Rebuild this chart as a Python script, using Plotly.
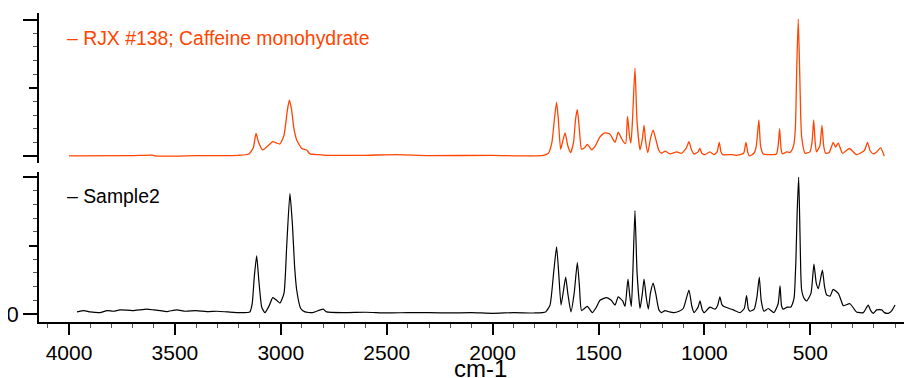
import plotly.graph_objects as go

# ---- Data (wavenumber cm-1, intensity in tick units) ----
ref_wn = [4000, 3700, 3600, 3595, 3400, 3200, 3150, 3130, 3117, 3105, 3086, 3060, 3038, 3020, 3004,
          2985, 2970, 2960, 2950, 2938, 2925, 2901, 2878, 2862, 2820, 2780, 2600, 2450, 2300, 2000,
          1850, 1760, 1737, 1720, 1708, 1698, 1690, 1679, 1670, 1658, 1645, 1632, 1618, 1608, 1600,
          1592, 1580, 1566, 1553, 1540, 1533, 1515, 1493, 1470, 1446, 1422, 1407, 1395, 1383, 1372,
          1363, 1354, 1347, 1340, 1328, 1318, 1304, 1293, 1285, 1277, 1267, 1255, 1242, 1230, 1215,
          1202, 1186, 1163, 1131, 1108, 1085, 1073, 1062, 1049, 1030, 1021, 1012, 997, 974, 955,
          940, 930, 922, 914, 870, 850, 815, 804, 795, 788, 766, 755, 743, 735, 722,
          700, 660, 652, 645, 638, 632, 612, 596, 585, 577, 570, 564, 557, 550, 545,
          541, 525, 502, 492, 484, 477, 471, 455, 445, 437, 428, 411, 392, 381, 368,
          348, 316, 282, 245, 230, 218, 203, 187, 168, 151]
ref_int = [0.0, 0.005, 0.01, 0.0, 0.005, 0.01, 0.03, 0.12, 0.33, 0.2, 0.088, 0.15, 0.21, 0.19, 0.176,
           0.3, 0.65, 0.82, 0.7, 0.4, 0.235, 0.11, 0.088, 0.03, 0.02, 0.01, 0.01, 0.02, 0.005, 0.01,
           0.0, 0.01, 0.04, 0.2, 0.55, 0.79, 0.55, 0.1, 0.2, 0.34, 0.15, 0.05, 0.2, 0.55, 0.68,
           0.45, 0.1, 0.12, 0.17, 0.12, 0.09, 0.15, 0.28, 0.34, 0.32, 0.2, 0.35, 0.28, 0.21, 0.18,
           0.58, 0.3, 0.19, 0.5, 1.29, 0.5, 0.09, 0.25, 0.45, 0.2, 0.05, 0.25, 0.38, 0.25, 0.08,
           0.04, 0.07, 0.03, 0.06, 0.04, 0.12, 0.21, 0.1, 0.03, 0.06, 0.11, 0.04, 0.02, 0.06, 0.02,
           0.06, 0.2, 0.06, 0.02, 0.02, 0.01, 0.04, 0.2, 0.05, 0.0, 0.04, 0.15, 0.53, 0.15, 0.03,
           0.02, 0.03, 0.15, 0.4, 0.1, 0.03, 0.06, 0.05, 0.1, 0.18, 0.45, 1.3, 2.01, 1.2, 0.55,
           0.28, 0.04, 0.06, 0.2, 0.53, 0.2, 0.06, 0.15, 0.45, 0.15, 0.04, 0.05, 0.2, 0.13, 0.19,
           0.04, 0.11, 0.02, 0.08, 0.2, 0.08, 0.03, 0.06, 0.12, 0.0]

smp_wn = [3962, 3930, 3900, 3854, 3820, 3790, 3759, 3700, 3633, 3600, 3570, 3539, 3492, 3450, 3400,
          3350, 3300, 3250, 3193, 3146, 3135, 3125, 3114, 3104, 3090, 3075, 3055, 3038, 3020, 3004,
          2985, 2972, 2957, 2945, 2935, 2925, 2906, 2886, 2850, 2800, 2784, 2700, 2600, 2500, 2400,
          2300, 2200, 2100, 2000, 1900, 1800, 1750, 1729, 1712, 1698, 1688, 1677, 1665, 1655, 1645,
          1630, 1615, 1600, 1590, 1580, 1553, 1529, 1510, 1493, 1462, 1440, 1422, 1407, 1386, 1375,
          1361, 1352, 1345, 1338, 1328, 1318, 1304, 1293, 1285, 1275, 1265, 1255, 1242, 1230, 1215,
          1202, 1186, 1165, 1145, 1120, 1100, 1073, 1060, 1049, 1030, 1021, 1010, 1001, 974, 950,
          938, 927, 918, 908, 864, 832, 812, 801, 793, 785, 765, 752, 741, 732, 719,
          699, 672, 652, 643, 636, 628, 609, 593, 584, 576, 568, 562, 555, 549, 545,
          541, 528, 517, 497, 483, 472, 462, 443, 433, 423, 407, 392, 368, 355, 344,
          313, 282, 250, 227, 215, 203, 187, 163, 150, 132, 115, 100]
smp_int = [0.03, 0.05, 0.03, 0.02, 0.05, 0.04, 0.06, 0.05, 0.07, 0.06, 0.05, 0.035, 0.06, 0.04, 0.05,
           0.035, 0.04, 0.03, 0.02, 0.03, 0.15, 0.55, 0.85, 0.5, 0.1, 0.02, 0.12, 0.24, 0.2, 0.16,
           0.3, 1.0, 1.76, 1.3, 0.7, 0.35, 0.08, 0.03, 0.02, 0.07, 0.03, 0.02, 0.025, 0.015, 0.02,
           0.02, 0.015, 0.02, 0.01, 0.02, 0.015, 0.03, 0.13, 0.6, 0.98, 0.6, 0.13, 0.35, 0.54, 0.3,
           0.03, 0.3, 0.75, 0.4, 0.05, 0.11, 0.02, 0.1, 0.2, 0.24, 0.2, 0.13, 0.25, 0.19, 0.11,
           0.51, 0.25, 0.11, 0.6, 1.51, 0.6, 0.08, 0.3, 0.51, 0.25, 0.07, 0.3, 0.45, 0.3, 0.06,
           0.02, 0.05, 0.03, 0.02, 0.04, 0.08, 0.35, 0.12, 0.02, 0.1, 0.19, 0.06, 0.02, 0.1, 0.07,
           0.12, 0.25, 0.14, 0.11, 0.06, 0.02, 0.08, 0.27, 0.08, 0.04, 0.07, 0.25, 0.54, 0.2, 0.04,
           0.08, 0.02, 0.15, 0.41, 0.12, 0.07, 0.1, 0.1, 0.15, 0.25, 0.8, 1.5, 2.0, 1.2, 0.6,
           0.35, 0.22, 0.19, 0.3, 0.73, 0.45, 0.37, 0.64, 0.4, 0.28, 0.26, 0.36, 0.3, 0.2, 0.12,
           0.15, 0.03, 0.02, 0.13, 0.05, 0.01, 0.06, 0.06, 0.02, 0.01, 0.05, 0.13]

ref_name = "RJX #138; Caffeine monohydrate"
smp_name = "Sample2"
x_title = "cm-1"
x_ticks = [4000, 3500, 3000, 2500, 2000, 1500, 1000, 500]

ORANGE = "#FF4500"
FONT = "Liberation Sans, Arial, sans-serif"

fig = go.Figure()
fig.add_trace(go.Scatter(x=ref_wn, y=ref_int, mode="lines", name=ref_name,
                         line=dict(color=ORANGE, width=1.3, shape="spline", smoothing=0.5),
                         xaxis="x", yaxis="y2", showlegend=False))
fig.add_trace(go.Scatter(x=smp_wn, y=smp_int, mode="lines", name=smp_name,
                         line=dict(color="black", width=1.2, shape="spline", smoothing=0.5),
                         xaxis="x", yaxis="y", showlegend=False))
# helper traces so the mid-tick overlay axes are drawn
fig.add_trace(go.Scatter(x=[None], y=[None], xaxis="x", yaxis="y3", showlegend=False, hoverinfo="skip"))
fig.add_trace(go.Scatter(x=[None], y=[None], xaxis="x", yaxis="y4", showlegend=False, hoverinfo="skip"))

bot_range = [-0.117, 2.073]
top_range = [-0.103, 2.099]
bot_dom = [0, 0.4854]
top_dom = [0.5146, 1]

ycommon = dict(showgrid=False, zeroline=False, showline=True, linecolor="black", linewidth=1.5,
               ticks="outside", ticklen=14, tickwidth=2, tickcolor="black",
               tickfont=dict(family=FONT, size=22, color="black"),
               minor=dict(dtick=0.2, tick0=0, ticks="outside", ticklen=4, tickwidth=1, tickcolor="#555"))

fig.update_layout(
    width=904, height=370,
    margin=dict(l=31, r=0, t=5, b=56),
    paper_bgcolor="white", plot_bgcolor="white",
    font=dict(family=FONT, color="black"),
    xaxis=dict(range=[4141.6, 20], tickmode="array", tickvals=x_ticks,
               showgrid=False, zeroline=False, showline=True, linecolor="black", linewidth=1.5,
               ticks="outside", ticklen=11, tickwidth=2, tickcolor="black",
               tickfont=dict(family=FONT, size=21, color="black"),
               minor=dict(dtick=100, tick0=0, ticks="outside", ticklen=4, tickwidth=1, tickcolor="#555"),
               anchor="y", automargin=False),
    yaxis=dict(domain=bot_dom, range=bot_range, tickmode="array", tickvals=[0, 2], ticktext=["0", ""],
               anchor="x", automargin=False, **ycommon),
    yaxis2=dict(domain=top_dom, range=top_range, tickmode="array", tickvals=[0, 2], ticktext=["", ""],
                anchor="x", automargin=False, **ycommon),
    yaxis3=dict(overlaying="y", range=bot_range, tickmode="array", tickvals=[1], showticklabels=False,
                ticks="outside", ticklen=9, tickwidth=2, tickcolor="black", showline=False,
                showgrid=False, zeroline=False, anchor="x", side="left", automargin=False),
    yaxis4=dict(overlaying="y2", range=top_range, tickmode="array", tickvals=[1], showticklabels=False,
                ticks="outside", ticklen=9, tickwidth=2, tickcolor="black", showline=False,
                showgrid=False, zeroline=False, anchor="x", side="left", automargin=False),
    annotations=[
        dict(text="– " + ref_name, xref="paper", yref="paper", x=0.0298, y=0.919,
             xanchor="left", yanchor="middle", showarrow=False,
             font=dict(family=FONT, size=19.4, color=ORANGE)),
        dict(text="– " + smp_name, xref="paper", yref="paper", x=0.0298, y=0.4078,
             xanchor="left", yanchor="middle", showarrow=False,
             font=dict(family=FONT, size=19.4, color="black")),
        dict(text=x_title, xref="paper", yref="paper", x=0.5063, y=-0.1489,
             xanchor="center", yanchor="middle", showarrow=False,
             font=dict(family=FONT, size=24, color="black")),
        dict(text="0", xref="paper", yref="paper", x=1.0046, y=-0.0647,
             xanchor="center", yanchor="middle", showarrow=False,
             font=dict(family=FONT, size=21, color="black")),
    ],
)

fig.write_html("out.html")
